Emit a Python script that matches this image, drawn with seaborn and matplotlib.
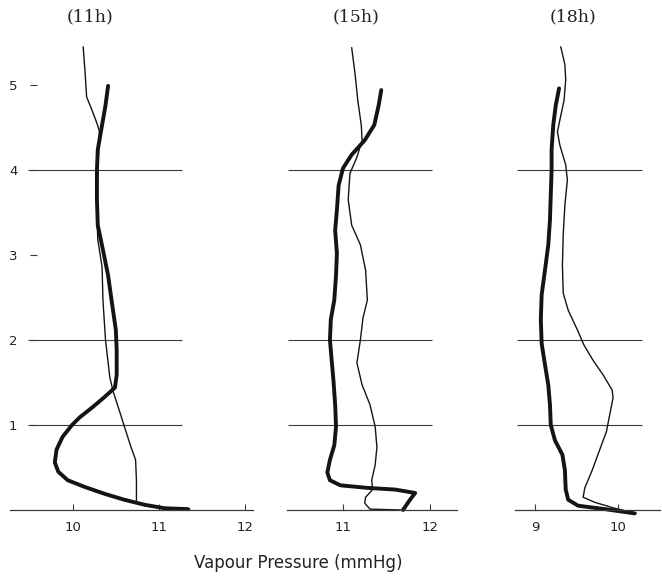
import matplotlib
matplotlib.use("Agg")
import matplotlib.pyplot as plt
import numpy as np
import pandas as pd
import seaborn as sns

# ---- vapour pressure profiles (mmHg) against height ----
hours = ["(11h)", "(15h)", "(18h)"]

# 11h
p11_thin = [10.12, 10.14, 10.16, 10.22, 10.28, 10.31, 10.29, 10.28, 10.29, 10.34, 10.35,
            10.38, 10.43, 10.47, 10.55, 10.60, 10.67, 10.73, 10.74, 10.74, 10.84, 11.07, 11.36]
h11_thin = [5.45, 5.18, 4.86, 4.71, 4.55, 4.45, 4.00, 3.49, 3.18, 2.86, 2.47,
            2.00, 1.56, 1.39, 1.14, 0.98, 0.76, 0.59, 0.35, 0.09, 0.05, 0.02, 0.01]
p11_thick = [10.41, 10.38, 10.34, 10.29, 10.28, 10.28, 10.29, 10.35, 10.41, 10.45, 10.50,
             10.51, 10.51, 10.49, 10.37, 10.23, 10.08, 9.99, 9.88, 9.81, 9.79, 9.83,
             9.94, 10.14, 10.37, 10.60, 10.84, 11.07, 11.34]
h11_thick = [4.99, 4.76, 4.53, 4.24, 4.00, 3.65, 3.35, 3.06, 2.76, 2.47, 2.12,
             1.88, 1.59, 1.44, 1.33, 1.21, 1.09, 1.00, 0.86, 0.71, 0.56, 0.45,
             0.35, 0.27, 0.19, 0.12, 0.06, 0.02, 0.01]

# 15h
p15_thin = [11.10, 11.14, 11.17, 11.21, 11.22, 11.16, 11.08, 11.06, 11.10, 11.20, 11.26,
            11.28, 11.23, 11.20, 11.16, 11.22, 11.31, 11.37, 11.39, 11.37, 11.33, 11.34,
            11.26, 11.25, 11.31, 11.66]
h15_thin = [5.44, 5.12, 4.82, 4.53, 4.35, 4.15, 3.96, 3.65, 3.35, 3.12, 2.82,
            2.47, 2.26, 2.00, 1.73, 1.47, 1.24, 0.98, 0.74, 0.53, 0.35, 0.24,
            0.15, 0.08, 0.01, 0.00]
p15_thick = [11.44, 11.41, 11.36, 11.25, 11.10, 11.00, 10.95, 10.93, 10.91, 10.93, 10.92,
             10.90, 10.86, 10.85, 10.87, 10.89, 10.91, 10.92, 10.90, 10.85, 10.82, 10.85,
             10.97, 11.28, 11.60, 11.83, 11.77, 11.69]
h15_thick = [4.94, 4.76, 4.53, 4.35, 4.18, 4.02, 3.82, 3.53, 3.29, 3.02, 2.76,
             2.47, 2.24, 2.00, 1.76, 1.53, 1.24, 0.98, 0.76, 0.59, 0.44, 0.35,
             0.29, 0.26, 0.24, 0.20, 0.12, 0.00]

# 18h
p18_thin = [9.31, 9.36, 9.37, 9.35, 9.30, 9.27, 9.30, 9.37, 9.39, 9.36, 9.34, 9.33,
            9.34, 9.40, 9.51, 9.59, 9.70, 9.82, 9.93, 9.94, 9.90, 9.86, 9.78, 9.69,
            9.60, 9.58, 9.72, 9.96, 10.22]
h18_thin = [5.45, 5.24, 5.06, 4.82, 4.59, 4.45, 4.29, 4.06, 3.88, 3.59, 3.24, 2.88,
            2.55, 2.35, 2.12, 1.94, 1.76, 1.59, 1.41, 1.32, 1.12, 0.92, 0.71, 0.47,
            0.26, 0.15, 0.09, 0.02, -0.04]
p18_thick = [9.29, 9.25, 9.22, 9.20, 9.20, 9.19, 9.18, 9.16, 9.12, 9.08, 9.07, 9.08,
             9.12, 9.16, 9.18, 9.19, 9.24, 9.33, 9.36, 9.37, 9.40, 9.52, 9.84, 10.20]
h18_thick = [4.96, 4.76, 4.53, 4.24, 4.00, 3.71, 3.41, 3.12, 2.82, 2.53, 2.24, 1.96,
             1.71, 1.47, 1.24, 1.00, 0.82, 0.65, 0.47, 0.24, 0.12, 0.05, 0.01, -0.04]

# x tick values per panel
xticks11 = [10, 11, 12]
xticks15 = [11, 12]
xticks18 = [9, 10]
yticks = [1, 2, 3, 4, 5]
ytick_labels = ["1", "2", "3", "4", "5"]
grid_heights = [1, 2, 4]

sns.set_style("white")
plt.rcParams["font.family"] = ["DejaVu Sans"]

W, H = 662, 580
fig = plt.figure(figsize=(W / 100, H / 100), dpi=100)

Y_TOP_PX, Y_BOT_PX = 30, 520
ylim = (-0.118, 5.647)

panels = [
    dict(px=(5, 255), xlim=(9.21, 12.12), base=(9.27, 12.10), grid=(9.48, 11.27),
         thin=(p11_thin, h11_thin), thick=(p11_thick, h11_thick), ticks=xticks11,
         title_x=0.34),
    dict(px=(280, 460), xlim=(10.276, 12.345), base=(10.36, 12.31), grid=(10.37, 12.02),
         thin=(p15_thin, h15_thin), thick=(p15_thick, h15_thick), ticks=xticks15,
         title_x=0.42),
    dict(px=(495, 662), xlim=(8.518, 10.53), base=(8.76, 10.50), grid=(8.78, 10.29),
         thin=(p18_thin, h18_thin), thick=(p18_thick, h18_thick), ticks=xticks18,
         title_x=0.467),
]

ink = "#141414"
rule = "#3a3a3a"

for i, (cfg, title) in enumerate(zip(panels, hours)):
    x0, x1 = cfg["px"]
    ax = fig.add_axes([x0 / W, (H - Y_BOT_PX) / H, (x1 - x0) / W, (Y_BOT_PX - Y_TOP_PX) / H])
    ax.set_xlim(*cfg["xlim"])
    ax.set_ylim(*ylim)
    ax.patch.set_alpha(0)

    # horizontal reference levels
    for hgt in grid_heights:
        ax.plot(cfg["grid"], [hgt, hgt], color=rule, lw=0.8, solid_capstyle="butt")

    thin = pd.DataFrame({"vp": cfg["thin"][0], "z": cfg["thin"][1]})
    thick = pd.DataFrame({"vp": cfg["thick"][0], "z": cfg["thick"][1]})
    sns.lineplot(data=thin, x="vp", y="z", sort=False, estimator=None, ax=ax,
                 color=ink, lw=1.0)
    sns.lineplot(data=thick, x="vp", y="z", sort=False, estimator=None, ax=ax,
                 color=ink, lw=2.8, solid_joinstyle="round", solid_capstyle="round")
    for ln in ax.lines:
        ln.set_clip_on(False)

    # baseline as bottom spine at zero height
    for side in ("top", "right", "left"):
        ax.spines[side].set_visible(False)
    sp = ax.spines["bottom"]
    sp.set_position(("data", 0))
    sp.set_bounds(*cfg["base"])
    sp.set_color(rule)
    sp.set_linewidth(0.9)

    ax.set_xticks(cfg["ticks"])
    ax.set_xticklabels([str(t) for t in cfg["ticks"]], fontsize=9.5, color="#222222")
    ax.tick_params(axis="x", bottom=True, direction="in", length=4, width=0.8,
                   color=rule, pad=8)
    ax.set_xlabel("")
    ax.set_ylabel("")

    if i == 0:
        ax.spines["left"].set_position(("data", 9.5))
        ax.spines["left"].set_visible(False)
        ax.set_yticks(yticks)
        ax.set_yticklabels(ytick_labels, fontsize=9.5, color="#222222")
        ax.tick_params(axis="y", left=True, direction="in", length=5, width=0.8,
                       color=rule, pad=9)
    else:
        ax.set_yticks([])

    ax.set_title(title, x=cfg["title_x"], pad=6, fontsize=12.5,
                 family=["DejaVu Serif"], color="#222222")

fig.text(298 / W, 1 - 563 / H, "Vapour Pressure (mmHg)", ha="center", va="center",
         fontsize=12, color="#222222")

fig.savefig("out.png", dpi=100, facecolor="white")
